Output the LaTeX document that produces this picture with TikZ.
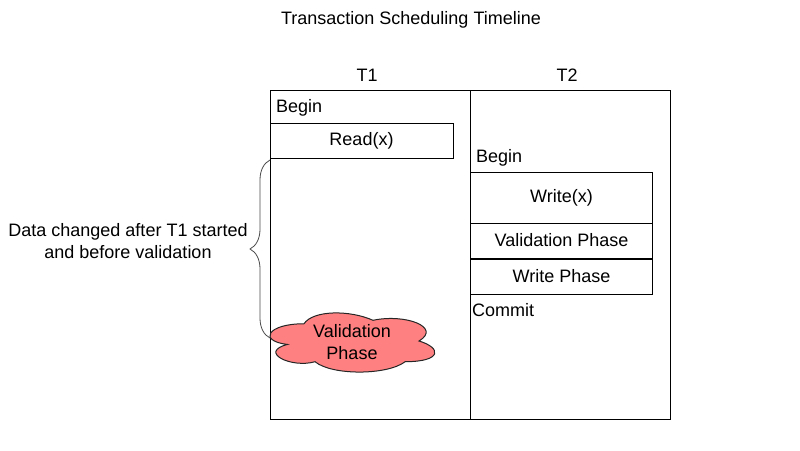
\documentclass[tikz,border=0pt]{standalone}
\usepackage{fontspec}
\setmainfont{Liberation Sans}
\usetikzlibrary{decorations.pathreplacing}
\definecolor{cloudred}{RGB}{255,128,128}
\begin{document}
\begin{tikzpicture}[x=1pt,y=-1pt,
  txt/.style={font=\fontsize{18}{22}\selectfont, inner sep=0pt},
  box/.style={draw=black, line width=1pt, inner sep=0pt, font=\fontsize{18}{22}\selectfont},
  cloudline/.style={draw=black!85, line width=1pt, fill=cloudred},
  bracestyle/.style={draw=black!70, line width=0.8pt, decorate, decoration={brace, amplitude=20pt}},
]
\useasboundingbox (0,0) rectangle (800,450);
\fill[white] (0,0) rectangle (800,450);
\node[txt, anchor=base] (title) at (411,24) {Transaction Scheduling Timeline};
\node[txt, anchor=base] (t1) at (367,81) {T1};
\node[txt, anchor=base] (t2) at (567,81) {T2};
\node[box, minimum width=200, minimum height=328.5] (col1) at (370,254.75) {};
\node[box, minimum width=200, minimum height=328.5] (col2) at (570,254.75) {};
\node[txt, anchor=base west] (begin1) at (276,112) {Begin};
\node[box, minimum width=183, minimum height=35] (read) at (361.5,140.5) {Read(x)};
\node[txt, anchor=base west] (begin2) at (476,162) {Begin};
\node[box, minimum width=182, minimum height=51] (write) at (561.5,198) {Write(x)};
\node[box, minimum width=182, minimum height=35] (val2) at (561.5,240.5) {Validation Phase};
\node[box, minimum width=182, minimum height=35] (wphase) at (561.5,276.5) {Write Phase};
\node[txt, anchor=base west] (commit) at (472,316) {Commit};
\coordinate (bbot) at (270,338);
\coordinate (btop) at (270,160);
\draw[bracestyle] (bbot) -- (btop);
\begin{scope}[shift={(258,306.5)}, x=184pt, y=-69pt]
\path[cloudline] (0.25,0.25) .. controls (0.05,0.25) and (0,0.5) .. (0.16,0.55)
  .. controls (0,0.66) and (0.18,0.9) .. (0.31,0.8)
  .. controls (0.4,1) and (0.7,1) .. (0.8,0.8)
  .. controls (1,0.8) and (1,0.6) .. (0.875,0.5)
  .. controls (1,0.3) and (0.8,0.1) .. (0.625,0.2)
  .. controls (0.5,0.05) and (0.3,0.05) .. (0.25,0.25) -- cycle;
\end{scope}
\node[txt, align=center] (cloudtext) at (352,342) {Validation\\Phase};
\node[txt, align=center] (note) at (128,241.5) {Data changed after T1 started\\and before validation};
\end{tikzpicture}
\end{document}
